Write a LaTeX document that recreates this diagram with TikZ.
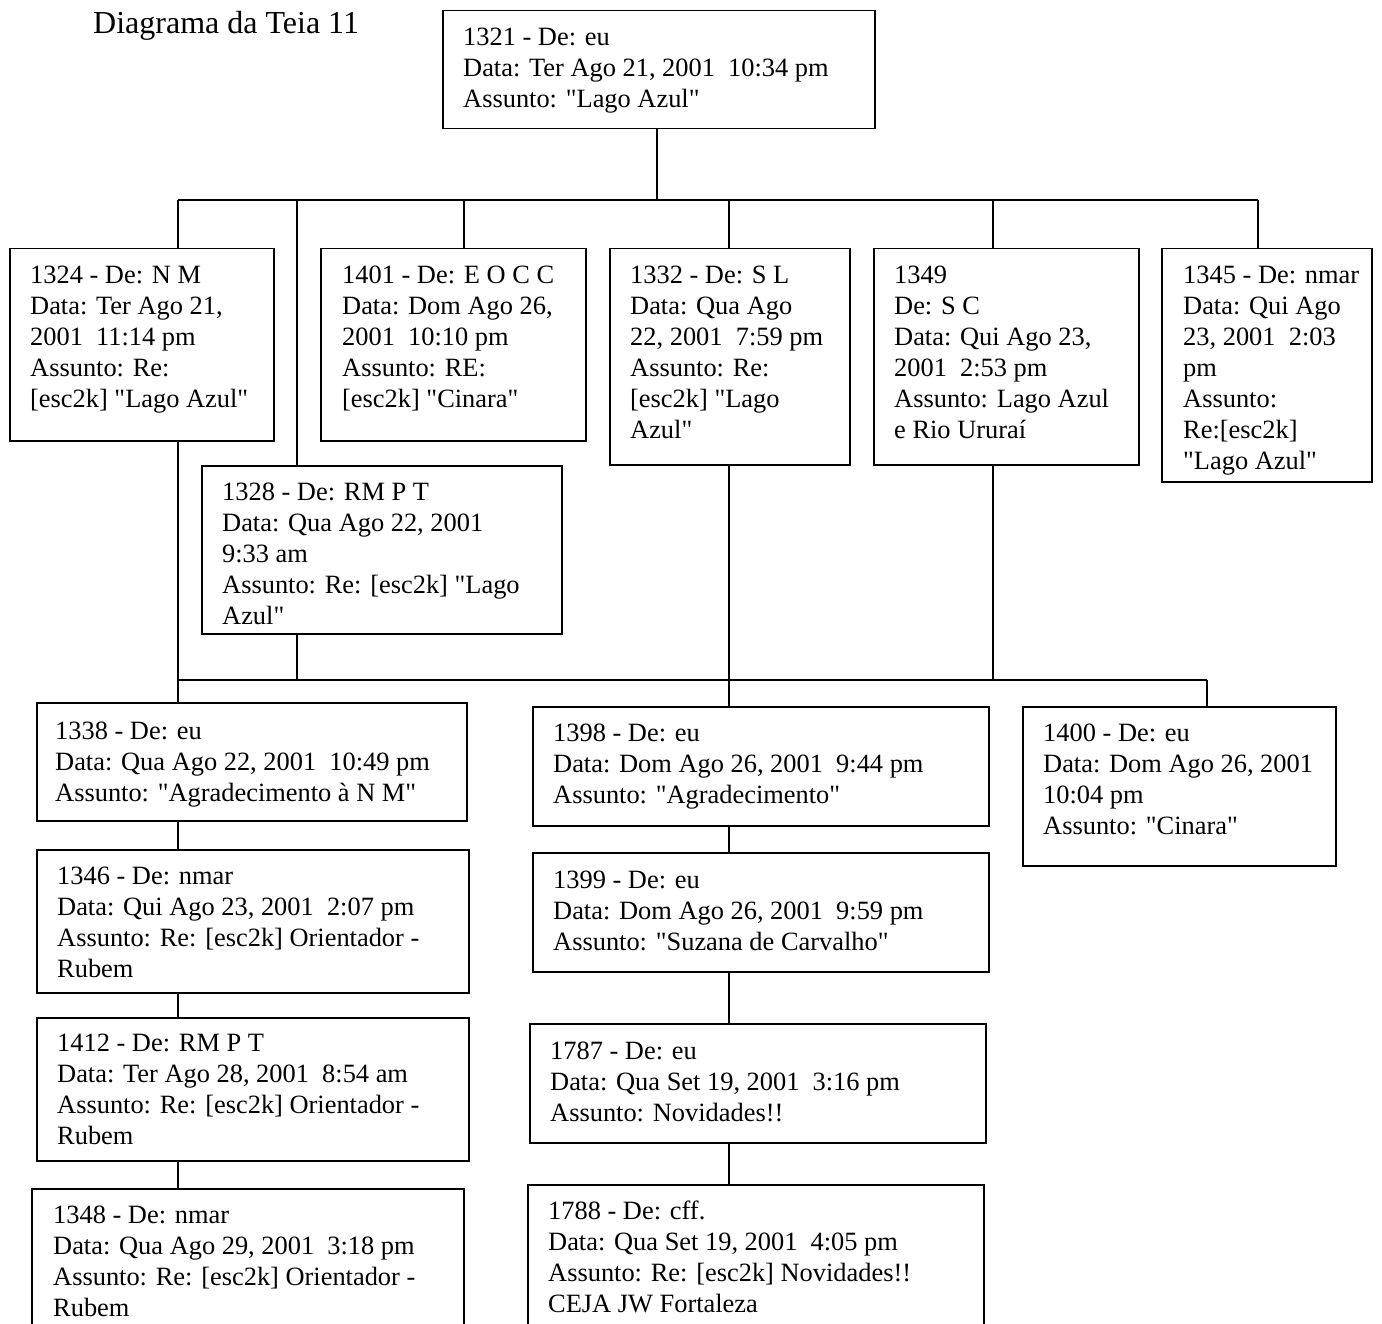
\documentclass[tikz,border=0pt]{standalone}
\usepackage{fontspec}
\setmainfont{Liberation Serif}[Ligatures=TeXOff]
\newcommand\fsmain{\fontsize{26.4}{31}\selectfont}
\newcommand\fstitle{\fontsize{32}{38}\selectfont}
\tikzset{
  mailframe/.style={draw, line width=1.5pt, inner sep=0pt, anchor=north west},
  mailtext/.style={anchor=north west, inner sep=0pt, align=left, font=\fsmain},
  conn/.style={line width=1.2pt},
}
% #1 name, #2 x1, #3 y1, #4 x2, #5 y2, #6 text x, #7 first-line centre y, #8 text
\newcommand\emailbox[8]{%
  \node[mailframe, minimum width={(#4-#2)*1pt}, minimum height={(#5-#3)*1pt}] (#1) at (#2,#3) {};
  \node[mailtext] (#1t) at (#6,#7-13) {\strut #8};
}
\begin{document}
\begin{tikzpicture}[x=1pt, y=-1pt]
\useasboundingbox (0,0) rectangle (1382,1324);
\clip (0,0) rectangle (1382,1324);

\node[anchor=base west, inner sep=0pt, font=\fstitle] (title) at (93,34) {Diagrama da Teia 11};

\emailbox{n1321}{442}{10}{874}{128}{463}{37}{1321 - De: eu\\Data: Ter Ago 21, 2001\ \ 10:34 pm\\Assunto: "Lago Azul"}

\emailbox{n1324}{9}{248}{273}{440}{30}{275}{1324 - De: N M\\Data: Ter Ago 21,\\2001\ \ 11:14 pm\\Assunto: Re:\\{[}esc2k] "Lago Azul"}
\emailbox{n1401}{320}{248}{585}{440}{342}{275}{1401 - De: E O C C\\Data: Dom Ago 26,\\2001\ \ 10:10 pm\\Assunto: RE:\\{[}esc2k] "Cinara"}
\emailbox{n1332}{609}{248}{849}{464}{630}{275}{1332 - De: S L\\Data: Qua Ago\\22, 2001\ \ 7:59 pm\\Assunto: Re:\\{[}esc2k] "Lago\\Azul"}
\emailbox{n1349}{873}{248}{1138}{464}{894}{275}{1349\\De: S C\\Data: Qui Ago 23,\\2001\ \ 2:53 pm\\Assunto: Lago Azul\\e Rio Ururaí}
\emailbox{n1345}{1161}{248}{1371}{481}{1183}{275}{1345 - De: nmar\\Data: Qui Ago\\23, 2001\ \ 2:03\\pm\\Assunto:\\Re:[esc2k]\\"Lago Azul"}
\emailbox{n1328}{201}{465}{561}{633}{222}{492}{1328 - De: RM P T\\Data: Qua Ago 22, 2001\\9:33 am\\Assunto: Re: [esc2k] "Lago\\Azul"}

\emailbox{n1338}{36}{702}{466}{820}{55}{731}{1338 - De: eu\\Data: Qua Ago 22, 2001\ \ 10:49 pm\\Assunto: "Agradecimento à N M"}
\emailbox{n1346}{36}{849}{468}{992}{57}{876}{1346 - De: nmar\\Data: Qui Ago 23, 2001\ \ 2:07 pm\\Assunto: Re: [esc2k] Orientador -\\Rubem}
\emailbox{n1412}{36}{1017}{468}{1160}{57}{1043}{1412 - De: RM P T\\Data: Ter Ago 28, 2001\ \ 8:54 am\\Assunto: Re: [esc2k] Orientador -\\Rubem}
\emailbox{n1348}{31}{1188}{463}{1345}{53}{1215}{1348 - De: nmar\\Data: Qua Ago 29, 2001\ \ 3:18 pm\\Assunto: Re: [esc2k] Orientador -\\Rubem}

\emailbox{n1398}{532}{706}{988}{825}{553}{733}{1398 - De: eu\\Data: Dom Ago 26, 2001\ \ 9:44 pm\\Assunto: "Agradecimento"}
\emailbox{n1399}{532}{852}{988}{971}{553}{880}{1399 - De: eu\\Data: Dom Ago 26, 2001\ \ 9:59 pm\\Assunto: "Suzana de Carvalho"}
\emailbox{n1787}{529}{1023}{985}{1142}{550}{1051}{1787 - De: eu\\Data: Qua Set 19, 2001\ \ 3:16 pm\\Assunto: Novidades!!}
\emailbox{n1788}{527}{1184}{983}{1345}{548}{1211}{1788 - De: cff.\\Data: Qua Set 19, 2001\ \ 4:05 pm\\Assunto: Re: [esc2k] Novidades!!\\CEJA JW Fortaleza}

\emailbox{n1400}{1022}{706}{1335}{865}{1043}{733}{1400 - De: eu\\Data: Dom Ago 26, 2001\\10:04 pm\\Assunto: "Cinara"}

% upper bus
\coordinate (a1) at (178,200);
\coordinate (a2) at (297,200);
\coordinate (a3) at (464,200);
\coordinate (a4) at (729,200);
\coordinate (a5) at (993,200);
\coordinate (a6) at (1258,200);
\coordinate (a0) at (657,200);
\draw[conn] (a0 |- n1321.south) -- (a0);
\draw[conn] (a1) -- (a6);
\draw[conn] (a1) -- (a1 |- n1324.north);
\draw[conn] (a2) -- (a2 |- n1328.north);
\draw[conn] (a3) -- (a3 |- n1401.north);
\draw[conn] (a4) -- (a4 |- n1332.north);
\draw[conn] (a5) -- (a5 |- n1349.north);
\draw[conn] (a6) -- (a6 |- n1345.north);

% lower bus
\coordinate (bl) at (178,680);
\coordinate (br) at (1207,680);
\draw[conn] (bl) -- (br);
\draw[conn] (a1 |- n1324.south) -- (a1 |- n1338.north);
\draw[conn] (a2 |- n1328.south) -- (a2 |- bl);
\draw[conn] (a4 |- n1332.south) -- (a4 |- n1398.north);
\draw[conn] (a5 |- n1349.south) -- (a5 |- bl);
\draw[conn] (br) -- (br |- n1400.north);

% left chain
\draw[conn] (a1 |- n1338.south) -- (a1 |- n1346.north);
\draw[conn] (a1 |- n1346.south) -- (a1 |- n1412.north);
\draw[conn] (a1 |- n1412.south) -- (a1 |- n1348.north);

% middle chain
\draw[conn] (a4 |- n1398.south) -- (a4 |- n1399.north);
\draw[conn] (a4 |- n1399.south) -- (a4 |- n1787.north);
\draw[conn] (a4 |- n1787.south) -- (a4 |- n1788.north);
\end{tikzpicture}
\end{document}
